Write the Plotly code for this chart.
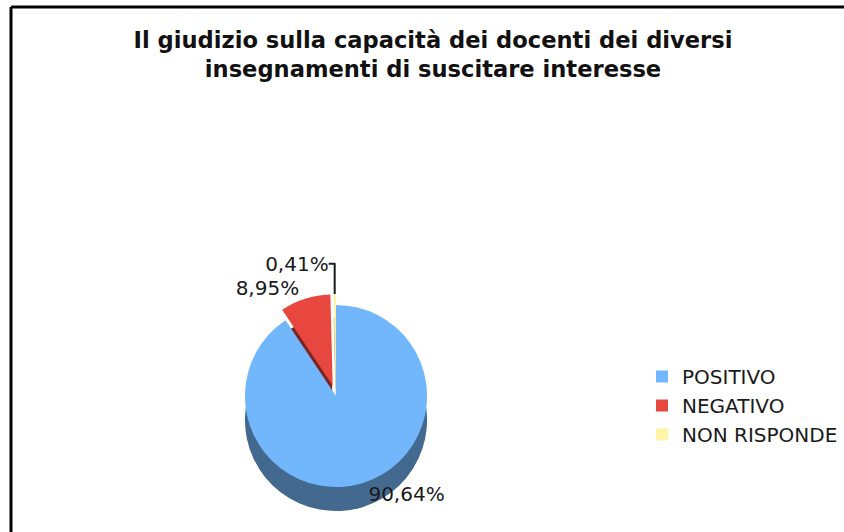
import plotly.graph_objects as go

labels = ["POSITIVO", "NEGATIVO", "NON RISPONDE"]
values = [90.64, 8.95, 0.41]
top_colors = ["#72b7fc", "#e8473f", "#fff3a6"]
side_colors = ["#43698f", "#7c2520", "#c9bf7a"]
pulls = [0, 0.12, 0.12]

W, H = 844, 532
text = [f"{v:.2f}".replace(".", ",") + "%" for v in values]

fig = go.Figure()
r = 102
cx = 336
cy_top = 396
cy_side = 420
dom_x = [(cx - r) / W, (cx + r) / W]
fig.add_trace(go.Pie(
    labels=labels, values=values, sort=False, direction="clockwise", rotation=0,
    marker=dict(colors=side_colors, line=dict(width=0)), pull=pulls,
    textinfo="none", hoverinfo="skip", showlegend=False,
    domain=dict(x=dom_x, y=[max(0, 1 - (cy_side + r) / H), 1 - (cy_side - r) / H]),
))
fig.add_trace(go.Pie(
    labels=labels, values=values, sort=False, direction="clockwise", rotation=0,
    marker=dict(colors=top_colors, line=dict(width=0)), pull=pulls,
    text=text, textinfo="text", textposition="outside",
    textfont=dict(family="DejaVu Sans", size=20, color="#1a1a1a"),
    domain=dict(x=dom_x, y=[1 - (cy_top + r) / H, 1 - (cy_top - r) / H]),
))

fig.update_layout(
    width=W, height=H,
    margin=dict(l=0, r=0, t=0, b=0),
    paper_bgcolor="white", plot_bgcolor="white",
    font=dict(family="DejaVu Sans", color="#1a1a1a"),
    title=dict(
        text="<b>Il giudizio sulla capacità dei docenti dei diversi<br>insegnamenti di suscitare interesse</b>",
        x=433 / W, xanchor="center", y=1 - 48 / H, yanchor="top",
        font=dict(family="DejaVu Sans", size=22.6, color="#111111"),
    ),
    legend=dict(
        x=642 / W, xanchor="left", y=1 - 357 / H, yanchor="top",
        font=dict(family="DejaVu Sans", size=20, color="#1a1a1a"),
        tracegroupgap=0, bgcolor="rgba(0,0,0,0)",
    ),
    shapes=[
        dict(type="line", xref="paper", yref="paper", x0=11 / W, x1=1.02, y0=1 - 7 / H, y1=1 - 7 / H,
             line=dict(color="black", width=3)),
        dict(type="line", xref="paper", yref="paper", x0=11 / W, x1=11 / W, y0=1 - 7 / H, y1=-0.02,
             line=dict(color="black", width=3)),
    ],
)

fig.write_html("out.html", config={"displayModeBar": False},
               post_script="document.body.style.margin='0';")
